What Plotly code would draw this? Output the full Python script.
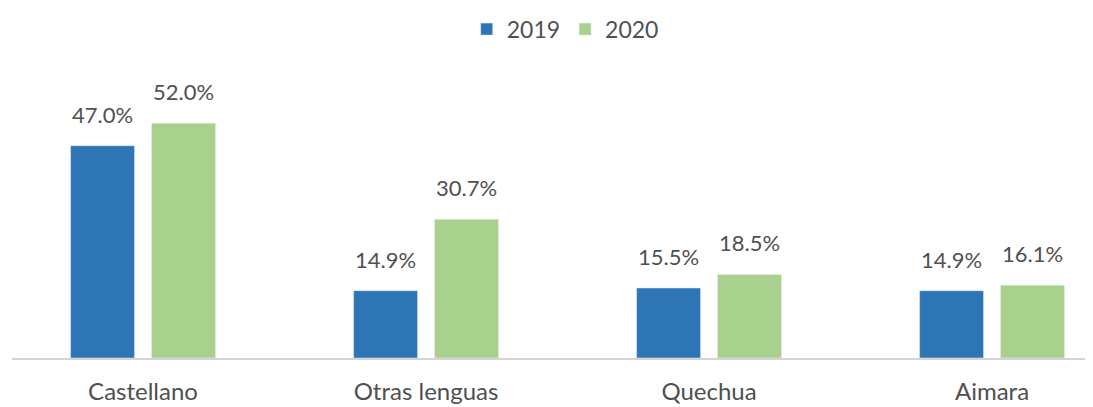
import plotly.graph_objects as go

categories = ["Castellano", "Otras lenguas", "Quechua", "Aimara"]
vals_2019 = [47.0, 14.9, 15.5, 14.9]
vals_2020 = [52.0, 30.7, 18.5, 16.1]

font_family = "Lato, 'Open Sans', sans-serif"
text_color = "#505050"

fig = go.Figure()
fig.add_trace(go.Bar(x=categories, y=vals_2019, name="2019", marker_color="#2E75B6"))
fig.add_trace(go.Bar(x=categories, y=vals_2020, name="2020", marker_color="#A9D18E"))

# value labels above each bar, shifted to the bar's slot in the group
for vals, shift in [(vals_2019, -40.5), (vals_2020, 40.5)]:
    for cat, v in zip(categories, vals):
        fig.add_annotation(x=cat, y=v, text=f"{v:.1f}%", showarrow=False,
                           xshift=shift, yshift=16, yanchor="bottom",
                           font=dict(size=22, color=text_color))

fig.update_layout(
    width=1093, height=407,
    margin=dict(l=4, r=0, t=79, b=57),
    barmode="group", bargap=0.428, bargroupgap=0.21,
    plot_bgcolor="white", paper_bgcolor="white",
    font=dict(family=font_family, color=text_color),
    showlegend=True,
    legend=dict(orientation="h", x=0.508, xanchor="center", y=0.948, yanchor="middle",
                yref="container", font=dict(size=23, color=text_color),
                itemwidth=30, traceorder="normal"),
)
fig.update_xaxes(range=[-0.463, 3.385], showline=True, linecolor="#d4d4d4", linewidth=2,
                 tickfont=dict(size=24, color=text_color), ticks="", ticklabelstandoff=11,
                 showgrid=False)
fig.update_yaxes(range=[0, 60], visible=False, showgrid=False)

fig.write_html("out.html")
